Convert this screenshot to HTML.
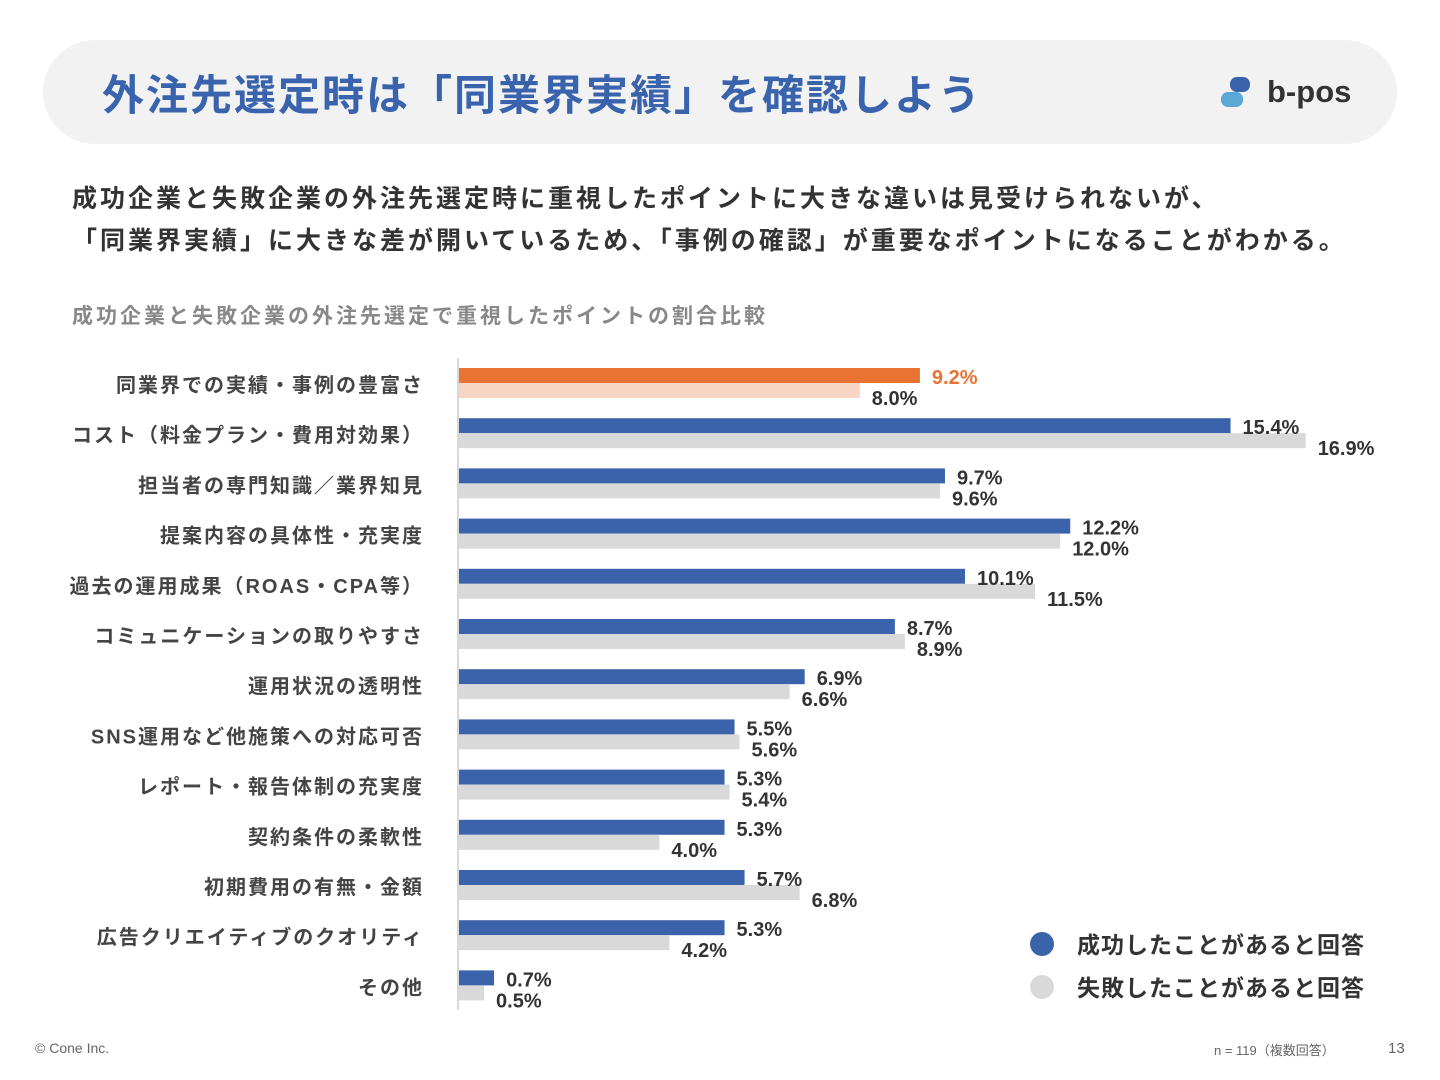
<!DOCTYPE html>
<html><head><meta charset="utf-8">
<style>
body{margin:0;width:1440px;height:1080px;background:#fff;font-family:"Liberation Sans","Noto Sans CJK JP",sans-serif;position:relative;overflow:hidden}
.hdr{position:absolute;left:43px;top:40px;width:1354px;height:104px;background:#f2f2f2;border-radius:52px}
.title{position:absolute;left:102px;top:62px;font-size:42px;font-weight:bold;color:#3a63ad;letter-spacing:2px;white-space:nowrap}
.logo{position:absolute;left:1220px;top:72px}
.lead{position:absolute;left:72px;top:178px;font-size:25px;font-weight:bold;color:#333;line-height:42px;white-space:nowrap;letter-spacing:3px}
.sub{position:absolute;left:72px;top:300px;font-size:21px;font-weight:bold;color:#888;white-space:nowrap;letter-spacing:3px}
.foot{position:absolute;font-size:14px;color:#666}
</style></head><body>
<div class="hdr"></div>
<div class="title">外注先選定時は「同業界実績」を確認しよう</div>
<svg class="logo" width="160" height="40">
<rect x="10" y="5" width="20" height="15" rx="7" fill="#3a63ad"/>
<rect x="1" y="20" width="22" height="15" rx="7" fill="#5ba8d6"/>
<text x="47" y="30" font-size="31" font-weight="bold" fill="#333" font-family="Liberation Sans, sans-serif">b-pos</text>
</svg>
<div class="lead">成功企業と失敗企業の外注先選定時に重視したポイントに大きな違いは見受けられないが、<br>「同業界実績」に大きな差が開いているため、「事例の確認」が重要なポイントになることがわかる。</div>
<div class="sub">成功企業と失敗企業の外注先選定で重視したポイントの割合比較</div>
<svg id="chart" width="1440" height="1080" style="position:absolute;left:0;top:0"></svg>
<div class="foot" style="left:35px;top:1040px">© Cone Inc.</div>
<div class="foot" style="left:1214px;top:1040px;font-size:13px">n = 119（複数回答）</div>
<div class="foot" style="left:1388px;top:1040px;font-size:15px">13</div>
<script>
const categories=["同業界での実績・事例の豊富さ","コスト（料金プラン・費用対効果）","担当者の専門知識／業界知見","提案内容の具体性・充実度","過去の運用成果（ROAS・CPA等）","コミュニケーションの取りやすさ","運用状況の透明性","SNS運用など他施策への対応可否","レポート・報告体制の充実度","契約条件の柔軟性","初期費用の有無・金額","広告クリエイティブのクオリティ","その他"];
const successVals=[9.2,15.4,9.7,12.2,10.1,8.7,6.9,5.5,5.3,5.3,5.7,5.3,0.7];
const failVals=[8.0,16.9,9.6,12.0,11.5,8.9,6.6,5.6,5.4,4.0,6.8,4.2,0.5];
const NS="http://www.w3.org/2000/svg";
const svg=document.getElementById('chart');
const x0=459, pxPer=50.1, y0=368, step=50.2, bh=15;
const xs=v=>x0+v*pxPer;
const yr=i=>y0+i*step;
function mk(t,a){const e=document.createElementNS(NS,t);for(const k in a)e.setAttribute(k,a[k]);svg.appendChild(e);return e;}
const ax=mk('line',{x1:458,x2:458,y1:358,y2:1010,stroke:'#ccc','stroke-width':1.5});


categories.forEach((c,i)=>{
 const y=yr(i);
 const hi=i===0;
 const l=mk('text',{x:424,y:y+24,'text-anchor':'end','font-size':20,'font-weight':'bold',fill:'#444','letter-spacing':2});
 l.textContent=c;
 
 
 const b1=mk('rect',{x:x0,y:y,width:xs(successVals[i])-x0,height:bh,fill:hi?'#e87333':'#3b63ab'});
 
 
 const b2=mk('rect',{x:x0,y:y+bh,width:xs(failVals[i])-x0,height:bh,fill:hi?'#f8d5c3':'#d9d9d9'});
 
 
 const t1=mk('text',{x:xs(successVals[i])+12,y:y+16,'font-size':20,'font-weight':'bold',fill:hi?'#e87333':'#333'});
 t1.textContent=successVals[i].toFixed(1)+'%';
 
 
 const t2=mk('text',{x:xs(failVals[i])+12,y:y+37,'font-size':20,'font-weight':'bold',fill:'#333'});
 t2.textContent=failVals[i].toFixed(1)+'%';
 
 
});
const legend=[["成功したことがあると回答",'#3b63ab',944],["失敗したことがあると回答",'#d9d9d9',987]];
legend.forEach(l=>{
 const c=mk('circle',{cx:1042,cy:l[2],r:12,fill:l[1]});
 
 
 const t=mk('text',{x:1077,y:l[2]+9,'font-size':23,'font-weight':'bold',fill:'#333','letter-spacing':1});
 t.textContent=l[0];
 
 
});
</script>
</body></html>
